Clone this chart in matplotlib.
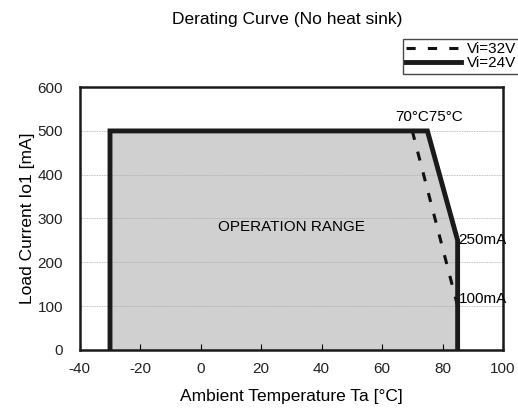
import numpy as np
import matplotlib
matplotlib.use("Agg")
import matplotlib.pyplot as plt

plt.rcParams['font.family'] = ['Liberation Sans', 'DejaVu Sans']
plt.rcParams['axes.unicode_minus'] = False

# Vi=24V derating (operation range outline)
temp_24 = [-30, -30, 75, 85, 85]
curr_24 = [0, 500, 500, 250, 0]

# Vi=32V derating
temp_32 = [70, 85]
curr_32 = [500, 100]

x_ticks = [-40, -20, 0, 20, 40, 60, 80, 100]
y_ticks = [0, 100, 200, 300, 400, 500, 600]

fig = plt.figure(figsize=(5.18, 4.15), dpi=100)
ax = fig.add_axes([0.154, 0.157, 0.817, 0.633])

# gray fill for operation range
ax.fill(temp_24, curr_24, color='#d0d0d0', zorder=1)
ax.plot(temp_32, curr_32, color='#111111', lw=2.2, ls=(0, (3, 4)), zorder=3, label='Vi=32V')
ax.plot(temp_24, curr_24, color='#1a1a1a', lw=3.5, solid_joinstyle='miter', zorder=4, label='Vi=24V')

ax.set_xlim(-40, 100)
ax.set_ylim(0, 600)
ax.set_xticks(x_ticks)
ax.set_yticks(y_ticks)
ax.tick_params(direction='in', length=4, labelsize=11, pad=9, labelcolor='#222222')
ax.tick_params(axis='y', length=0, pad=12)
ax.grid(axis='y', color='#aaaaaa', lw=0.6, ls=(0, (1, 1)), zorder=0)
for s in ax.spines.values():
    s.set_linewidth(1.8)
    s.set_color('#1a1a1a')

ax.set_xlabel('Ambient Temperature Ta [°C]', fontsize=12.5, labelpad=9)
ax.set_ylabel('Load Current Io1 [mA]', fontsize=12.5, labelpad=2)
fig.text(0.555, 0.952, 'Derating Curve (No heat sink)', ha='center', va='center', fontsize=12.5)

ax.text(30, 280, 'OPERATION RANGE', ha='center', va='center', fontsize=11)
ax.text(75.5, 515, '70°C75°C', ha='center', va='bottom', fontsize=11)
ax.text(85.3, 250, '250mA', ha='left', va='center', fontsize=11)
ax.text(85.3, 115, '100mA', ha='left', va='center', fontsize=11)

fig.legend(loc='upper right', bbox_to_anchor=(1.003, 0.905), frameon=True, fancybox=False,
           edgecolor='#1a1a1a', fontsize=11, handlelength=3.6, borderpad=0.2,
           labelspacing=0.0, handletextpad=0.4, borderaxespad=0.0)

fig.savefig('out.png', dpi=100)
